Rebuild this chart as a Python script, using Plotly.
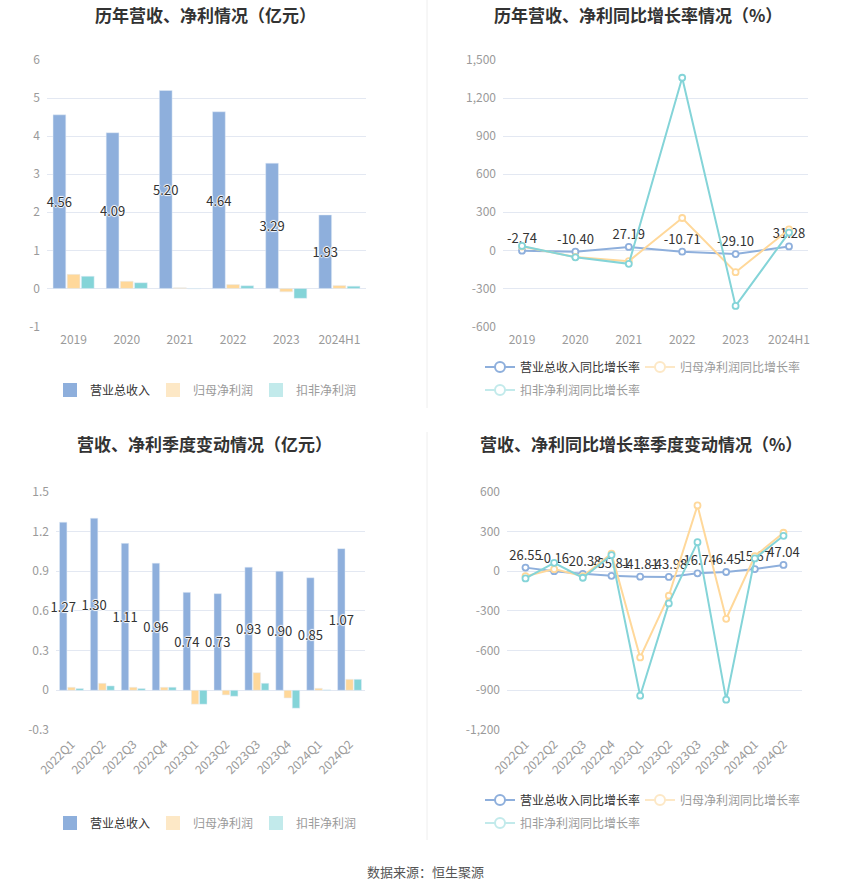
import plotly.graph_objects as go

# ---------------- data ----------------
years = ["2019", "2020", "2021", "2022", "2023", "2024H1"]
rev_year = [4.56, 4.09, 5.20, 4.64, 3.29, 1.93]
np_year = [0.37, 0.19, 0.02, 0.10, -0.09, 0.08]
dnp_year = [0.32, 0.15, -0.01, 0.07, -0.26, 0.06]

rev_yoy_year = [-2.74, -10.40, 27.19, -10.71, -29.10, 31.28]
np_yoy_year = [30, -52, -85, 255, -172, 165]
dnp_yoy_year = [35, -55, -106, 1360, -438, 140]

quarters = ["2022Q1", "2022Q2", "2022Q3", "2022Q4", "2023Q1",
            "2023Q2", "2023Q3", "2023Q4", "2024Q1", "2024Q2"]
rev_q = [1.27, 1.30, 1.11, 0.96, 0.74, 0.73, 0.93, 0.90, 0.85, 1.07]
np_q = [0.023, 0.053, 0.023, 0.023, -0.105, -0.035, 0.133, -0.058, 0.015, 0.083]
dnp_q = [0.013, 0.033, 0.013, 0.023, -0.105, -0.045, 0.053, -0.135, 0.003, 0.083]

rev_yoy_q = [26.55, -0.16, -20.38, -35.81, -41.81, -43.98, -16.74, -6.45, 15.67, 47.04]
np_yoy_q = [-38, 15, -38, 133, -652, -186, 496, -360, 113, 290]
dnp_yoy_q = [-55, 63, -50, 121, -941, -244, 219, -971, 96, 267]

ticks_tl = [-1, 0, 1, 2, 3, 4, 5, 6]
ticks_tl_text = ["-1", "0", "1", "2", "3", "4", "5", "6"]
ticks_tr = [-600, -300, 0, 300, 600, 900, 1200, 1500]
ticks_tr_text = ["-600", "-300", "0", "300", "600", "900", "1,200", "1,500"]
ticks_bl = [-0.3, 0, 0.3, 0.6, 0.9, 1.2, 1.5]
ticks_bl_text = ["-0.3", "0", "0.3", "0.6", "0.9", "1.2", "1.5"]
ticks_br = [-1200, -900, -600, -300, 0, 300, 600]
ticks_br_text = ["-1,200", "-900", "-600", "-300", "0", "300", "600"]

# ---------------- style ----------------
W, H = 850, 891
FONT = "Noto Sans CJK SC"
BLUE = "#8eafdc"
ORANGE = "#ffd89a"
TEAL = "#84d4d8"
BLUE_L = "#8eafdc"
ORANGE_L = "#fde8c6"
TEAL_L = "#c2eaeb"
GRID = "#e3e8f2"
AXIS = "#6e7079"
LBL = "#9a9a9a"
DARK = "#333333"
SHADOW = "white 1px 0px 1px, white -1px 0px 1px, white 0px 1px 1px, white 0px -1px 1px"

def px_x(p):
    return p / W

def px_y(p):
    return 1 - p / H

dom_tl_x = [px_x(47), px_x(366)]
dom_tr_x = [px_x(503), px_x(808)]
dom_top_y = [px_y(326.5), px_y(60)]
dom_bl_x = [px_x(56), px_x(365)]
dom_br_x = [px_x(507), px_x(802)]
dom_bot_y = [px_y(730), px_y(491.7)]

fig = go.Figure()

def bar_labels(vals):
    return [f"{v:.2f}" for v in vals]

# ---------- top-left bars ----------
fig.add_trace(go.Bar(x=years, y=rev_year, marker_color=BLUE, text=bar_labels(rev_year),
                     textposition="inside", insidetextanchor="middle", textangle=0,
                     constraintext="none", cliponaxis=False,
                     textfont=dict(color=DARK, size=13, family=FONT, shadow=SHADOW),
                     showlegend=False, xaxis="x", yaxis="y", hoverinfo="skip"))
fig.add_trace(go.Bar(x=years, y=np_year, marker_color=ORANGE, showlegend=False,
                     xaxis="x", yaxis="y", hoverinfo="skip"))
fig.add_trace(go.Bar(x=years, y=dnp_year, marker_color=TEAL, showlegend=False,
                     xaxis="x", yaxis="y", hoverinfo="skip"))

# ---------- bottom-left bars ----------
fig.add_trace(go.Bar(x=quarters, y=rev_q, marker_color=BLUE, text=bar_labels(rev_q),
                     textposition="inside", insidetextanchor="middle", textangle=0,
                     constraintext="none", cliponaxis=False,
                     textfont=dict(color=DARK, size=13, family=FONT, shadow=SHADOW),
                     showlegend=False, xaxis="x3", yaxis="y3", hoverinfo="skip"))
fig.add_trace(go.Bar(x=quarters, y=np_q, marker_color=ORANGE, showlegend=False,
                     xaxis="x3", yaxis="y3", hoverinfo="skip"))
fig.add_trace(go.Bar(x=quarters, y=dnp_q, marker_color=TEAL, showlegend=False,
                     xaxis="x3", yaxis="y3", hoverinfo="skip"))

# ---------- line charts ----------
def line(x, y, color, xa, ya, labels=None):
    return go.Scatter(
        x=x, y=y, mode="lines+markers+text" if labels else "lines+markers",
        text=labels, textposition="top center",
        textfont=dict(color=DARK, size=13, family=FONT),
        line=dict(color=color, width=2),
        marker=dict(symbol="circle", size=6, color="white",
                    line=dict(color=color, width=1.8)),
        showlegend=False, xaxis=xa, yaxis=ya, cliponaxis=False, hoverinfo="skip")

fig.add_trace(line(years, rev_yoy_year, BLUE, "x2", "y2", [f"{v:.2f}" for v in rev_yoy_year]))
fig.add_trace(line(years, np_yoy_year, ORANGE, "x2", "y2"))
fig.add_trace(line(years, dnp_yoy_year, TEAL, "x2", "y2"))

fig.add_trace(line(quarters, rev_yoy_q, BLUE, "x4", "y4", [f"{v:.2f}" for v in rev_yoy_q]))
fig.add_trace(line(quarters, np_yoy_q, ORANGE, "x4", "y4"))
fig.add_trace(line(quarters, dnp_yoy_q, TEAL, "x4", "y4"))

# ---------- legend-only entries ----------
def span(txt, c):
    return f"<span style='color:{c}'>{txt}</span>"

bar_names = [("营业总收入", BLUE_L, DARK), ("归母净利润", ORANGE_L, LBL), ("扣非净利润", TEAL_L, LBL)]
for leg, xa, ya in (("legend", "x", "y"), ("legend4", "x3", "y3")):
    for nm, c, tc in bar_names:
        fig.add_trace(go.Scatter(x=[None], y=[None], mode="markers", name=span(nm, tc),
                                 marker=dict(symbol="square", size=14, color=c),
                                 legend=leg, xaxis=xa, yaxis=ya, showlegend=True))

line_names = [("营业总收入同比增长率", BLUE_L, DARK), ("归母净利润同比增长率", ORANGE_L, LBL),
              ("扣非净利润同比增长率", TEAL_L, LBL)]
for legs, xa, ya in ((("legend2", "legend2", "legend3"), "x2", "y2"),
                     (("legend5", "legend5", "legend6"), "x4", "y4")):
    for (nm, c, tc), leg in zip(line_names, legs):
        fig.add_trace(go.Scatter(x=[None], y=[None], mode="lines+markers", name=span(nm, tc),
                                 line=dict(color=c, width=2),
                                 marker=dict(symbol="circle", size=10, color="white",
                                             line=dict(color=c, width=2)),
                                 legend=leg, xaxis=xa, yaxis=ya, showlegend=True))

# ---------- axes ----------
def yaxis(dom, rng, tv, tt, anchor):
    return dict(domain=dom, range=rng, tickvals=tv, ticktext=tt, showgrid=True,
                gridcolor=GRID, gridwidth=1, zeroline=False, showline=False, ticks="",
                tickfont=dict(color=LBL, size=12, family=FONT), anchor=anchor,
                ticklabelstandoff=6, fixedrange=True, automargin=False)

def xaxis(dom, anchor, angle=0):
    return dict(domain=dom, type="category", anchor=anchor, showgrid=False, zeroline=False,
                showline=False, ticks="", tickangle=angle,
                tickfont=dict(color=LBL, size=12, family=FONT), ticklabelstandoff=4,
                fixedrange=True, automargin=False)

def zero_axis(base, ydom, rng):
    pos = ydom[0] + (0 - rng[0]) / (rng[1] - rng[0]) * (ydom[1] - ydom[0])
    return dict(overlaying=base, matches=base, anchor="free", position=pos, type="category",
                showline=True, linecolor=AXIS, linewidth=1, ticks="outside", ticklen=5,
                tickcolor=AXIS, tickwidth=1, showticklabels=False, showgrid=False,
                zeroline=False, fixedrange=True, automargin=False)

r_tl, r_tr, r_bl, r_br = [-1, 6], [-600, 1500], [-0.3, 1.5], [-1200, 600]

fig.update_layout(
    xaxis=xaxis(dom_tl_x, "y"),
    yaxis=yaxis(dom_top_y, r_tl, ticks_tl, ticks_tl_text, "x"),
    xaxis2=xaxis(dom_tr_x, "y2"),
    yaxis2=yaxis(dom_top_y, r_tr, ticks_tr, ticks_tr_text, "x2"),
    xaxis3=xaxis(dom_bl_x, "y3", -45),
    yaxis3=yaxis(dom_bot_y, r_bl, ticks_bl, ticks_bl_text, "x3"),
    xaxis4=xaxis(dom_br_x, "y4", -45),
    yaxis4=yaxis(dom_bot_y, r_br, ticks_br, ticks_br_text, "x4"),
    xaxis5=zero_axis("x", dom_top_y, r_tl),
    xaxis6=zero_axis("x2", dom_top_y, r_tr),
    xaxis7=zero_axis("x3", dom_bot_y, r_bl),
    xaxis8=zero_axis("x4", dom_bot_y, r_br),
)

# ---------- legends ----------
def leg(x, y, ew, xanchor="left"):
    return dict(orientation="h", x=x, y=y, xanchor=xanchor, yanchor="middle",
                bgcolor="rgba(0,0,0,0)", font=dict(size=12, family=FONT, color=LBL),
                entrywidth=ew, entrywidthmode="pixels", itemclick=False,
                itemdoubleclick=False, tracegroupgap=0, traceorder="normal")

fig.update_layout(
    legend=leg(px_x(50), px_y(390), 58),
    legend2=leg(px_x(480), px_y(367), 115),
    legend3=leg(px_x(480), px_y(390), 115),
    legend4=leg(px_x(50), px_y(823), 58),
    legend5=leg(px_x(480), px_y(800), 115),
    legend6=leg(px_x(480), px_y(823), 115),
)

# ---------- titles, dividers, source ----------
titles = [("历年营收、净利情况（亿元）", 205, 14),
          ("历年营收、净利同比增长率情况（%）", 638, 14),
          ("营收、净利季度变动情况（亿元）", 204, 444),
          ("营收、净利同比增长率季度变动情况（%）", 641, 444)]
annotations = []
for t, cx, cy in titles:
    annotations.append(dict(text=f"<b>{t}</b>", x=px_x(cx), y=px_y(cy), xref="paper",
                            yref="paper", showarrow=False, xanchor="center", yanchor="middle",
                            font=dict(size=17, color=DARK, family=FONT)))
annotations.append(dict(text="数据来源：恒生聚源", x=0.5, y=px_y(871), xref="paper", yref="paper",
                        showarrow=False, xanchor="center", yanchor="middle",
                        font=dict(size=13, color="#555555", family=FONT)))

shapes = [
    dict(type="line", xref="paper", yref="paper", x0=px_x(427), x1=px_x(427),
         y0=px_y(0), y1=px_y(408), line=dict(color="#eeeeee", width=1)),
    dict(type="line", xref="paper", yref="paper", x0=px_x(427), x1=px_x(427),
         y0=px_y(432), y1=px_y(840), line=dict(color="#eeeeee", width=1)),
]

fig.update_layout(
    width=W, height=H, margin=dict(l=0, r=0, t=0, b=0, pad=0, autoexpand=False),
    paper_bgcolor="white", plot_bgcolor="white",
    barmode="group", bargap=0.2, bargroupgap=0.1,
    font=dict(family=FONT, color=DARK),
    annotations=annotations, shapes=shapes,
    hovermode=False,
)

fig.write_html("out.html", config={"displayModeBar": False},
               post_script="document.body.style.margin='0px';document.body.style.overflow='hidden';")
